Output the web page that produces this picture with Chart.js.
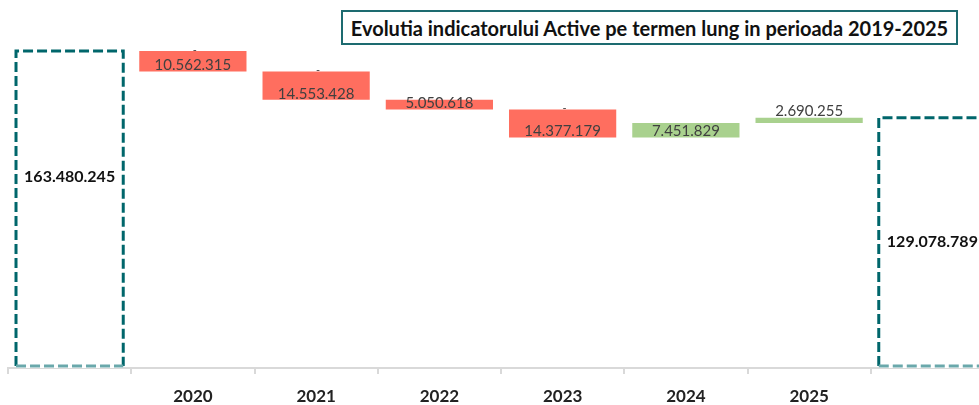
<!DOCTYPE html>
<html><head><meta charset="utf-8">
<script src="https://cdn.jsdelivr.net/npm/chart.js@4.4.1/dist/chart.umd.min.js"></script>
<style>
html,body{margin:0;padding:0;background:#fff;overflow:hidden;width:979px;height:405px}
#wrap{position:relative;width:1000px;height:405px}
#title{position:absolute;left:341px;top:10px;width:617px;height:35px;border:2px solid #1d6b70;box-sizing:border-box;font:bold 20px Lato, sans-serif;display:flex;align-items:center;justify-content:center;color:#111;background:#fff;white-space:nowrap}
</style></head><body>
<div id="wrap"><canvas id="c" width="1000" height="405"></canvas><div id="title">Evolutia indicatorului Active pe termen lung in perioada 2019-2025</div></div>
<script>
const categories = ['', '2020', '2021', '2022', '2023', '2024', '2025', ''];
const startValue = 163480245;
const changes = [-10562315, -14553428, -5050618, -14377179, 7451829, 2690255];
const endValue = 129078789;
const zeroMarks = ['', '-', '-', '', '-', '', '', ''];

const fmt = v => Math.round(Math.abs(v)).toString().replace(/\B(?=(\d{3})+(?!\d))/g, '.');

// build floating bars from the changes
const floating = [null];
let run = startValue;
for (const c of changes) { floating.push([run, run + c]); run += c; }
floating.push(null);
const totals = [startValue, null, null, null, null, null, null, endValue];
const changeColors = [null].concat(changes.map(c => c < 0 ? '#ff6e5f' : '#a9d18e')).concat([null]);

const TEAL = '#00666b';
const labelPlugin = {
  id: 'wfLabels',
  afterDatasetsDraw(chart) {
    const ctx = chart.ctx;
    const mt = chart.getDatasetMeta(0);
    mt.data.forEach((el, i) => {
      if (totals[i] == null) return;
      const p = el.getProps(['x', 'y', 'base', 'width'], true);
      const l = p.x - p.width / 2, r = p.x + p.width / 2, t = Math.min(p.y, p.base), b = Math.max(p.y, p.base) - 2;
      ctx.save();
      ctx.lineWidth = 3;
      ctx.setLineDash([10, 4]);
      ctx.strokeStyle = TEAL;
      ctx.beginPath();
      ctx.moveTo(l, b); ctx.lineTo(l, t); ctx.lineTo(r, t); ctx.lineTo(r, b);
      ctx.stroke();
      ctx.strokeStyle = '#6aa8ab';
      ctx.beginPath(); ctx.moveTo(l, b); ctx.lineTo(r, b); ctx.stroke();
      ctx.restore();
      ctx.save();
      ctx.font = 'bold 16px Lato, sans-serif';
      ctx.fillStyle = '#111';
      ctx.textAlign = 'center';
      ctx.textBaseline = 'middle';
      const frac = i === 0 ? 0.4 : 0.5;
      ctx.fillText(fmt(totals[i]), p.x, t + (b - t) * frac);
      ctx.restore();
    });
    const mc = chart.getDatasetMeta(1);
    mc.data.forEach((el, i) => {
      if (floating[i] == null) return;
      const p = el.getProps(['x', 'y', 'base', 'width'], true);
      const t = Math.min(p.y, p.base), b = Math.max(p.y, p.base);
      ctx.save();
      ctx.font = '15px Lato, sans-serif';
      ctx.fillStyle = '#404040';
      ctx.textAlign = 'center';
      ctx.textBaseline = 'middle';
      const v = changes[i - 1];
      const y = (b - t) < 8 ? t - 7 : b - 6;
      ctx.fillText(fmt(v), p.x, y);
      if (zeroMarks[i]) {
        ctx.font = '11px Lato, sans-serif';
        ctx.fillText(zeroMarks[i], p.x + 2, t - 1);
      }
      ctx.restore();
    });
  }
};

new Chart(document.getElementById('c'), {
  type: 'bar',
  data: {
    labels: categories,
    datasets: [
      { label: 'Total', data: totals, backgroundColor: 'rgba(255,255,255,1)', borderWidth: 0, grouped: false, barPercentage: 0.87, categoryPercentage: 1 },
      { label: 'Variatie', data: floating, backgroundColor: changeColors, borderWidth: 0, grouped: false, barPercentage: 0.87, categoryPercentage: 1 }
    ]
  },
  options: {
    responsive: false,
    devicePixelRatio: 1,
    animation: false,
    layout: { padding: { top: 19, left: 8, right: 6, bottom: 0 } },
    plugins: { legend: { display: false }, tooltip: { enabled: false }, title: { display: false } },
    scales: {
      x: {
        grid: { display: true, drawOnChartArea: false, color: '#d9d9d9', lineWidth: 2, tickLength: 6, offset: true },
        border: { display: true, color: '#d9d9d9', width: 2 },
        ticks: { color: '#222', font: { family: 'Lato, sans-serif', size: 17, weight: 'bold' }, padding: 12, maxRotation: 0, autoSkip: false },
        afterFit(s) { s.height = 37; }
      },
      y: { display: false, min: 0, max: 180000000 }
    }
  },
  plugins: [labelPlugin]
});
</script>
</body></html>
